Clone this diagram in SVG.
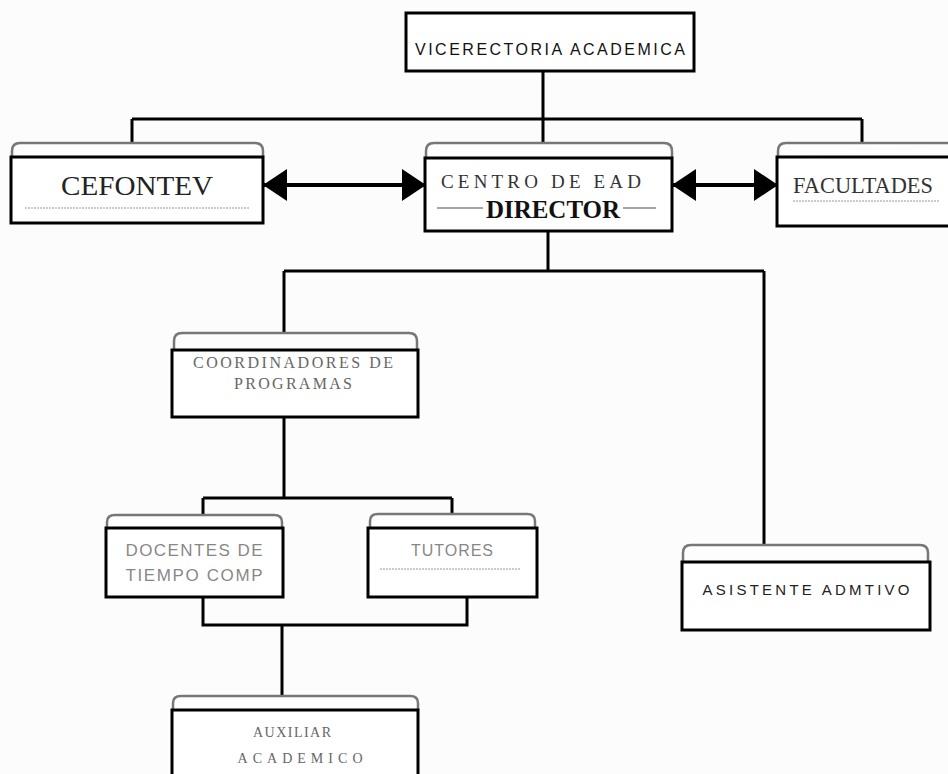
<svg xmlns="http://www.w3.org/2000/svg" width="948" height="774" viewBox="0 0 948 774">
<style>
.box{fill:#fff;stroke:#000;stroke-width:3}
.lid{fill:#fdfdfd;stroke:#777;stroke-width:2.5}
.ln{fill:none;stroke:#000;stroke-width:3}
.arr{fill:none;stroke:#000;stroke-width:4}
.dot{stroke:#999;stroke-width:1;stroke-dasharray:2 1}
.serif{font-family:"Liberation Serif","Times New Roman",serif;text-anchor:middle}
.sans{font-family:"Liberation Sans",Arial,sans-serif;text-anchor:middle}
.faint{fill:#666}
</style>
<defs>
<marker id="ah" viewBox="0 0 24 32" refX="23" refY="16" markerWidth="24" markerHeight="32" markerUnits="userSpaceOnUse" orient="auto-start-reverse">
<path d="M0,0 L24,16 L0,32 Z" fill="#000"/>
</marker>
</defs>
<rect width="948" height="774" fill="#fcfcfc"/>
<g id="connectors">
<path class="ln" d="M543,72 V119 M132,119 H862 M132,119 V145 M543,119 V145 M862,119 V145"/>
<line class="arr" x1="264" y1="185" x2="425" y2="185" marker-start="url(#ah)" marker-end="url(#ah)"/>
<line class="arr" x1="673" y1="185" x2="777" y2="185" marker-start="url(#ah)" marker-end="url(#ah)"/>
<path class="ln" d="M548,231 V271 M284,271 H764 M284,271 V334 M764,271 V547"/>
<path class="ln" d="M284,417 V498 M203,498 H452 M203,498 V516 M452,498 V515"/>
<path class="ln" d="M203,597 V625 H467 V597 M282,625 V697"/>
</g>
<g id="vicerectoria">
<rect class="box" x="406" y="13" width="288" height="58" stroke-width="4"/>
<text class="sans" x="550" y="55" font-size="16" fill="#111" textLength="270" lengthAdjust="spacing">VICERECTORIA  ACADEMICA</text>
</g>
<g id="cefontev">
<path class="lid" d="M12,157 V151 Q12,143 20,143 H255 Q263,143 263,151 V157"/>
<rect class="box" x="11" y="157" width="252" height="66"/>
<text class="serif" x="137" y="195" font-size="28" fill="#222" textLength="152" lengthAdjust="spacingAndGlyphs">CEFONTEV</text>
<line class="dot" x1="25" y1="208" x2="250" y2="208"/>
</g>
<g id="centro">
<path class="lid" d="M426,158 V151 Q426,143 434,143 H664 Q672,143 672,151 V158"/>
<rect class="box" x="425" y="158" width="247" height="73"/>
<text class="serif" x="541" y="188" font-size="19" fill="#333" textLength="200" lengthAdjust="spacing">CENTRO DE EAD</text>
<text class="serif" x="553" y="218" font-size="25" font-weight="bold" fill="#111" textLength="134" lengthAdjust="spacingAndGlyphs">DIRECTOR</text>
<line x1="437" y1="208" x2="483" y2="208" stroke="#888" stroke-width="1.5"/>
<line x1="623" y1="208" x2="656" y2="208" stroke="#888" stroke-width="1.5"/>
</g>
<g id="facultades">
<path class="lid" d="M778,157 V151 Q778,143 786,143 H948"/>
<path class="box" d="M948,157 H777 V226 H948"/>
<text class="serif" x="863" y="193" font-size="23" fill="#333" textLength="140" lengthAdjust="spacingAndGlyphs">FACULTADES</text>
<line class="dot" x1="793" y1="201" x2="940" y2="201"/>
</g>
<g id="coordinadores">
<path class="lid" d="M174,350 V341 Q174,333 182,333 H409 Q417,333 417,341 V350"/>
<rect class="box" x="172" y="350" width="246" height="67"/>
<text class="serif faint" x="293" y="368" font-size="16" textLength="200" lengthAdjust="spacing">COORDINADORES  DE</text>
<text class="serif faint" x="293" y="389" font-size="16" textLength="118" lengthAdjust="spacing">PROGRAMAS</text>
</g>
<g id="docentes">
<path class="lid" d="M107,528 V522 Q107,515 115,515 H274 Q282,515 282,522 V528"/>
<rect class="box" x="106" y="528" width="177" height="69"/>
<text class="sans faint" x="194" y="556" font-size="17" fill-opacity="0.8" textLength="137" lengthAdjust="spacing">DOCENTES DE</text>
<text class="sans faint" x="194" y="581" font-size="17" fill-opacity="0.8" textLength="137" lengthAdjust="spacing">TIEMPO COMP</text>
</g>
<g id="tutores">
<path class="lid" d="M370,528 V521 Q370,514 378,514 H527 Q535,514 535,521 V528"/>
<rect class="box" x="368" y="528" width="169" height="69"/>
<text class="sans faint" x="452" y="556" font-size="16" fill-opacity="0.8" textLength="82" lengthAdjust="spacing">TUTORES</text>
<line class="dot" x1="380" y1="569" x2="520" y2="569"/>
</g>
<g id="asistente">
<path class="lid" d="M683,562 V553 Q683,545 691,545 H920 Q928,545 928,553 V562"/>
<rect class="box" x="682" y="562" width="248" height="68"/>
<text class="sans" x="806" y="595" font-size="15" fill="#222" textLength="207" lengthAdjust="spacing">ASISTENTE ADMTIVO</text>
</g>
<g id="auxiliar">
<path class="lid" d="M173,710 V703 Q173,696 181,696 H410 Q418,696 418,703 V710"/>
<path class="box" d="M172,780 V710 H418 V780"/>
<text class="serif faint" x="292" y="737" font-size="14" textLength="78" lengthAdjust="spacing">AUXILIAR</text>
<text class="serif faint" x="300" y="763" font-size="14" textLength="125" lengthAdjust="spacing">ACADEMICO</text>
</g>
</svg>
